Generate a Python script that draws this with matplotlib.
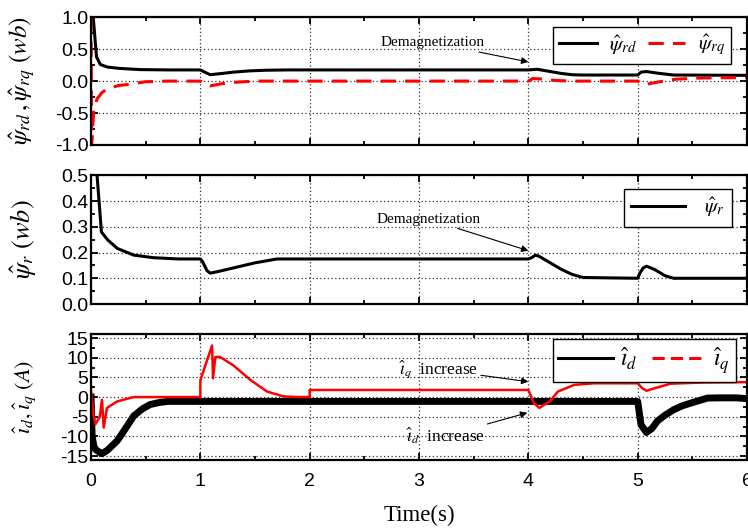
import matplotlib
matplotlib.use("Agg")
import matplotlib.pyplot as plt
from matplotlib.lines import Line2D
from matplotlib.ticker import MultipleLocator

# ---- data ----
t_rd = [0, 0.02, 0.05, 0.085, 0.15, 0.25, 0.45, 0.7, 1.0, 1.04, 1.09, 1.2, 1.3,
        1.45, 1.6, 1.8, 4.0, 4.08, 4.2, 4.3, 4.4, 4.5, 5.0, 5.03, 5.08, 5.2, 5.33, 6.0]
psi_rd = [1.0, 1.0, 0.38, 0.26, 0.22, 0.2, 0.18, 0.175, 0.175, 0.14, 0.1, 0.12, 0.14,
          0.16, 0.17, 0.175, 0.175, 0.185, 0.15, 0.12, 0.1, 0.095, 0.095, 0.14, 0.15,
          0.12, 0.095, 0.09]

t_rq = [0, 0.005, 0.01, 0.025, 0.055, 0.1, 0.15, 0.25, 0.35, 0.5, 0.7, 1.0, 1.05,
        1.09, 1.2, 1.3, 1.5, 4.0, 4.04, 4.15, 4.25, 4.4, 5.0, 5.03, 5.08, 5.2, 5.35,
        5.6, 6.0]
psi_rq = [1.0, -1.0, -0.9, -0.44, -0.28, -0.18, -0.12, -0.07, -0.05, -0.01, 0.0, 0.0,
          -0.05, -0.075, -0.04, -0.02, 0.0, 0.0, 0.04, 0.03, 0.01, 0.0, 0.0, -0.04,
          -0.05, -0.01, 0.03, 0.05, 0.055]

t_r = [0, 0.055, 0.095, 0.15, 0.24, 0.39, 0.57, 0.8, 1.0, 1.02, 1.06, 1.09, 1.15, 1.3,
       1.5, 1.7, 4.0, 4.03, 4.065, 4.1, 4.2, 4.3, 4.4, 4.5, 5.0, 5.02, 5.05, 5.08,
       5.15, 5.25, 5.33, 5.5, 6.0]
psi_r = [0.6, 0.5, 0.28, 0.25, 0.216, 0.19, 0.18, 0.175, 0.175, 0.165, 0.13, 0.12,
         0.125, 0.14, 0.16, 0.175, 0.175, 0.18, 0.19, 0.185, 0.16, 0.135, 0.115, 0.103,
         0.1, 0.12, 0.14, 0.147, 0.135, 0.11, 0.1, 0.1, 0.1]

t_id = [0, 0.01, 0.03, 0.055, 0.1, 0.15, 0.24, 0.32, 0.39, 0.47, 0.54, 0.62, 0.7, 1.0,
        5.0, 5.03, 5.08, 5.13, 5.18, 5.25, 5.33, 5.41, 5.49, 5.56, 5.64, 5.75, 5.9, 6.0]
i_d = [0, -10, -13, -13.6, -14.4, -13.5, -11.1, -7.8, -4.8, -3.0, -1.9, -1.4, -1.1, -1.1,
       -1.1, -7, -9, -8, -6.1, -4.6, -3.2, -2.2, -1.5, -0.9, -0.25, -0.2, -0.2, -0.4]

t_iq = [0, 0.02, 0.04, 0.08, 0.1, 0.116, 0.146, 0.24, 0.39, 0.6, 1.0, 1.0, 1.107,
        1.116, 1.137, 1.18, 1.3, 1.46, 1.61, 1.76, 1.9, 2.0, 2.0, 4.0, 4.05, 4.1, 4.2,
        4.27, 4.42, 4.6, 5.0, 5.04, 5.08, 5.15, 5.3, 5.6, 6.0]
i_q = [1.4, -4, -6.9, -5, -0.7, -7.75, -2.75, -1.1, 0, 0, 0, 4.3, 13.1, 4.75, 10.2, 10.2,
       8.1, 4.3, 1.4, 0.17, 0, 0, 1.8, 1.8, -1.5, -2.75, -1.0, 1.4, 3.1, 3.5, 3.5, 2.3,
       1.6, 2.2, 3.4, 3.7, 3.8]

plt.rcParams['font.family'] = ['Liberation Sans', 'DejaVu Sans']
plt.rcParams['mathtext.fontset'] = 'stix'
plt.rcParams['axes.unicode_minus'] = False

fig = plt.figure(figsize=(7.48, 5.29), dpi=100)
ax1 = fig.add_axes([0.1217, 0.726, 0.877, 0.2414])
ax2 = fig.add_axes([0.1217, 0.4253, 0.877, 0.2433])
ax3 = fig.add_axes([0.1217, 0.1304, 0.877, 0.238])

serif = 'Liberation Serif'
arrow = dict(arrowstyle='-|>', color='black', lw=0.8, shrinkA=0, shrinkB=0,
             mutation_scale=10)
leg_kw = dict(loc='upper right', borderaxespad=0, fancybox=False,
              edgecolor='black', framealpha=1)


def style(ax, ylim, major, minor, fmt):
    ax.set_xlim(0, 6)
    ax.set_ylim(*ylim)
    ax.xaxis.set_major_locator(MultipleLocator(1))
    ax.xaxis.set_minor_locator(MultipleLocator(0.5))
    ax.yaxis.set_major_locator(MultipleLocator(major))
    ax.yaxis.set_minor_locator(MultipleLocator(minor))
    ax.yaxis.set_major_formatter(fmt)
    ax.tick_params(which='both', direction='in', top=True, right=True, width=1.3)
    ax.tick_params(which='major', length=5, labelsize=14)
    ax.tick_params(which='minor', length=3)
    ax.tick_params(axis='y', pad=2)
    ax.tick_params(axis='x', pad=9)
    ax.grid(True, which='major', linestyle=(0, (1, 2)), color='#333333', lw=0.9)
    for s in ax.spines.values():
        s.set_linewidth(1.6)
    ax.yaxis.set_label_coords(-0.081, 0.5)


# top panel
ax1.plot(t_rd, psi_rd, color='black', lw=2.2)
ax1.plot(t_rq, psi_rq, color='red', lw=2.2, ls=(0, (5, 3)))
style(ax1, (-1.0, 1.0), 0.5, 0.25, '{x:.1f}')
ax1.set_xticklabels([])
ax1.set_ylabel(r'$\hat{\psi}_{rd}\,,\hat{\psi}_{rq}\ (wb)$', fontsize=18)
ax1.legend([Line2D([], [], color='black', lw=2.2),
            Line2D([], [], color='red', lw=2.2, ls=(0, (5, 3)))],
           [r'$\hat{\psi}_{rd}$', r'$\hat{\psi}_{rq}$'], ncol=2,
           bbox_to_anchor=(0.976, 0.924), fontsize=15,
           handlelength=1.8, handletextpad=0.6, columnspacing=0.5,
           borderpad=0.3, **leg_kw)
ax1.annotate('Demagnetization', xy=(4.0, 0.3), xytext=(3.6, 0.6),
             ha='right', va='center', fontsize=11, family=serif, arrowprops=arrow)

# middle panel
ax2.plot(t_r, psi_r, color='black', lw=2.2)
style(ax2, (0.0, 0.5), 0.1, 0.05, '{x:.1f}')
ax2.set_xticklabels([])
ax2.set_ylabel(r'$\hat{\psi}_{r}\ (wb)$', fontsize=19)
ax2.legend([Line2D([], [], color='black', lw=2.2)], [r'$\hat{\psi}_{r}$'],
           bbox_to_anchor=(0.977, 0.894), fontsize=15,
           handlelength=2.6, handletextpad=0.9, borderpad=0.35, **leg_kw)
ax2.annotate('Demagnetization', xy=(4.0, 0.207), xytext=(3.56, 0.33),
             ha='right', va='center', fontsize=11, family=serif, arrowprops=arrow)

# bottom panel
ax3.plot(t_id, i_d, color='black', lw=5)
ax3.plot(t_iq, i_q, color='red', lw=1.8)
style(ax3, (-16, 16), 5, 2.5, '{x:.0f}')
ax3.set_ylabel(r'$\hat{\imath}_d, \hat{\imath}_q\ (A)$', fontsize=16)
ax3.set_xlabel('Time(s)', fontsize=16.5, family=serif, labelpad=11)
ax3.legend([Line2D([], [], color='black', lw=2.2),
            Line2D([], [], color='red', lw=2.2, ls=(0, (4, 2)))],
           [r'$\hat{\imath}_d$', r'$\hat{\imath}_q$'], ncol=2,
           bbox_to_anchor=(0.983, 0.96), fontsize=17,
           handlelength=2.3, handletextpad=0.3, columnspacing=0.6,
           borderpad=0.25, **leg_kw)
ax3.annotate(r'$\hat{\imath}_q$' + '  increase', xy=(4.0, 3.9), xytext=(3.54, 7.0),
             ha='right', va='center', fontsize=12.5, family=serif, arrowprops=arrow)
ax3.annotate(r'$\hat{\imath}_d$' + '  increase', xy=(3.99, -4.0), xytext=(3.6, -9.85),
             ha='right', va='center', fontsize=12.5, family=serif, arrowprops=arrow)

fig.savefig('out.png', dpi=100)
